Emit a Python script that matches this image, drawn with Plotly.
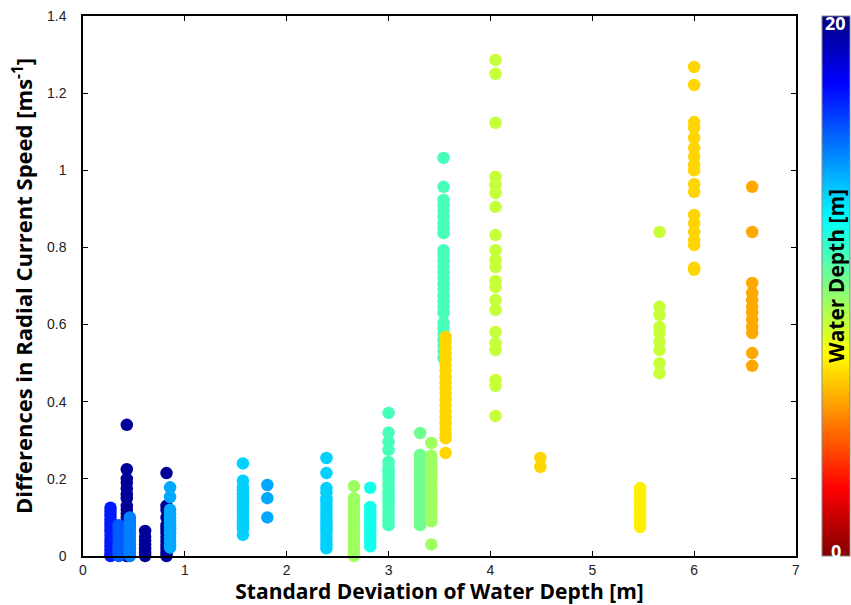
import plotly.graph_objects as go

# ---- data: each group = one column of points (x = std of depth, depth for colour, speeds) ----
group_x = [0.43, 0.27, 0.35, 0.46, 0.61, 0.82, 0.855, 1.57, 1.81, 2.39, 2.66, 2.82, 3.0, 3.31, 3.42,
           3.54, 3.56, 4.05, 4.49, 5.47, 5.66, 6.0, 6.57]
group_depth = [19.5, 17.0, 15.7, 15.0, 19.5, 19.5, 14.2, 13.4, 14.2, 13.4, 9.4, 12.1, 11.1, 10.3, 9.4,
               11.1, 6.7, 8.6, 6.7, 7.2, 8.6, 6.7, 5.8]
group_speed = [
    [0.34, 0.225, 0.20, 0.19, 0.175, 0.16, 0.15, 0.13, 0.12, 0.11, 0.10, 0.09, 0.08, 0.07, 0.06, 0.05,
     0.04, 0.03, 0.02, 0.01, 0.0],
    [0.125, 0.115, 0.105, 0.095, 0.085, 0.075, 0.065, 0.055, 0.045, 0.035, 0.025, 0.015, 0.005, 0.0],
    [0.08, 0.07, 0.06, 0.05, 0.04, 0.03, 0.02, 0.01, 0.0],
    [0.10, 0.09, 0.08, 0.07, 0.06, 0.05, 0.04, 0.03, 0.02, 0.01, 0.0],
    [0.065, 0.05, 0.04, 0.03, 0.02, 0.01, 0.0],
    [0.215, 0.13, 0.12, 0.10, 0.08, 0.07, 0.06, 0.05, 0.04, 0.03, 0.02, 0.01, 0.0],
    [0.178, 0.153, 0.12, 0.11, 0.10, 0.09, 0.08, 0.07, 0.06, 0.05, 0.04, 0.03, 0.022],
    [0.24, 0.195, 0.18, 0.17, 0.16, 0.15, 0.14, 0.13, 0.12, 0.11, 0.10, 0.09, 0.08, 0.07, 0.055],
    [0.184, 0.15, 0.10],
    [0.254, 0.215, 0.176, 0.165, 0.15, 0.14, 0.13, 0.12, 0.11, 0.10, 0.09, 0.08, 0.07, 0.06, 0.05,
     0.04, 0.03, 0.02],
    [0.181, 0.15, 0.14, 0.13, 0.12, 0.11, 0.10, 0.09, 0.08, 0.07, 0.06, 0.05, 0.04, 0.03, 0.02, 0.01, 0.0],
    [0.177, 0.127, 0.115, 0.105, 0.095, 0.085, 0.075, 0.065, 0.055, 0.045, 0.035, 0.025],
    [0.371, 0.32, 0.296, 0.275, 0.244, 0.23, 0.22, 0.21, 0.20, 0.19, 0.18, 0.17, 0.16, 0.15, 0.14,
     0.13, 0.12, 0.11, 0.10, 0.09, 0.08],
    [0.319, 0.262, 0.25, 0.24, 0.23, 0.22, 0.21, 0.20, 0.19, 0.18, 0.17, 0.16, 0.15, 0.14, 0.13, 0.12,
     0.11, 0.10, 0.09, 0.08],
    [0.293, 0.26, 0.25, 0.24, 0.23, 0.22, 0.21, 0.20, 0.19, 0.18, 0.17, 0.16, 0.15, 0.14, 0.13, 0.12,
     0.11, 0.10, 0.09, 0.03],
    [1.032, 0.957, 0.923, 0.91, 0.895, 0.88, 0.865, 0.85, 0.837, 0.793, 0.78, 0.765, 0.75, 0.735, 0.72,
     0.705, 0.69, 0.675, 0.66, 0.645, 0.63, 0.604, 0.59, 0.575, 0.56, 0.545, 0.53, 0.513],
    [0.568, 0.555, 0.54, 0.525, 0.51, 0.495, 0.48, 0.465, 0.45, 0.435, 0.42, 0.405, 0.39, 0.375, 0.36,
     0.345, 0.33, 0.315, 0.305, 0.267],
    [1.286, 1.25, 1.123, 0.983, 0.962, 0.941, 0.905, 0.832, 0.793, 0.767, 0.749, 0.713, 0.697, 0.664,
     0.638, 0.581, 0.552, 0.534, 0.456, 0.441, 0.363],
    [0.254, 0.231],
    [0.176, 0.165, 0.155, 0.145, 0.135, 0.125, 0.115, 0.105, 0.095, 0.085, 0.075],
    [0.84, 0.646, 0.625, 0.594, 0.578, 0.555, 0.534, 0.50, 0.474],
    [1.268, 1.221, 1.125, 1.11, 1.084, 1.058, 1.035, 1.014, 1.0, 0.964, 0.944, 0.884, 0.863, 0.84,
     0.819, 0.806, 0.747, 0.742],
    [0.957, 0.84, 0.708, 0.682, 0.664, 0.646, 0.63, 0.612, 0.594, 0.578, 0.526, 0.493],
]

x_ticks = [0, 1, 2, 3, 4, 5, 6, 7]
y_ticks = [0, 0.2, 0.4, 0.6, 0.8, 1.0, 1.2, 1.4]
y_tick_text = ["0", "0.2", "0.4", "0.6", "0.8", "1", "1.2", "1.4"]

# flatten for a single scatter trace
xs, ys, cs = [], [], []
for gx, gd, sp in zip(group_x, group_depth, group_speed):
    for v in sp:
        xs.append(gx)
        ys.append(v)
        cs.append(gd)

jet_rev = [
    [0.0, "rgb(128,0,0)"],
    [0.125, "rgb(255,0,0)"],
    [0.375, "rgb(255,255,0)"],
    [0.625, "rgb(0,255,255)"],
    [0.875, "rgb(0,0,255)"],
    [1.0, "rgb(0,0,128)"],
]

fig = go.Figure()
fig.add_trace(go.Scatter(
    x=xs, y=ys, mode="markers", cliponaxis=False,
    marker=dict(
        size=12.5, color=cs, colorscale=jet_rev, cmin=0, cmax=20, showscale=True,
        line=dict(width=0),
        colorbar=dict(
            x=1.036, xanchor="left", y=0.5, yanchor="middle", len=1.0, lenmode="fraction",
            thickness=28, xpad=0, ypad=0, outlinewidth=1, outlinecolor="#888",
            showticklabels=False, ticks="",
        ),
    ),
    hoverinfo="skip",
))

axis_common = dict(
    showline=True, linecolor="black", linewidth=1.5, mirror="ticks",
    ticks="inside", ticklen=5, tickcolor="black", tickwidth=1,
    showgrid=False, zeroline=False,
    tickfont=dict(family="Liberation Sans, Arial", size=14, color="#222"),
)

fig.update_layout(
    width=851, height=605,
    margin=dict(l=83, r=55, t=16, b=49, autoexpand=False),
    paper_bgcolor="white", plot_bgcolor="white",
    showlegend=False,
    xaxis=dict(range=[0, 7], tickvals=x_ticks,
               title=dict(text="Standard Deviation of Water Depth [m]", standoff=4,
                          font=dict(family="Open Sans", size=21, color="black", weight="bold")),
               **axis_common),
    yaxis=dict(range=[0, 1.4], tickvals=y_ticks, ticktext=y_tick_text, ticklabelstandoff=12,
               title=dict(text="Differences in Radial Current Speed [ms<sup>-1</sup>]", standoff=8,
                          font=dict(family="Open Sans", size=22, color="black", weight="bold")),
               **axis_common),
    annotations=[
        dict(text="<b>20</b>", x=1.056, y=0.987, xref="paper", yref="paper", showarrow=False,
             xanchor="center", yanchor="middle",
             font=dict(family="Open Sans", size=18, color="white")),
        dict(text="<b>0</b>", x=1.056, y=0.01, xref="paper", yref="paper", showarrow=False,
             xanchor="center", yanchor="middle",
             font=dict(family="Open Sans", size=18, color="white")),
        dict(text="<b>Water Depth [m]</b>", x=1.056, y=0.519, xref="paper", yref="paper",
             showarrow=False, textangle=-90, xanchor="center", yanchor="middle",
             font=dict(family="Open Sans", size=21, color="black")),
    ],
)

fig.write_html("out.html", config={"displayModeBar": False},
               post_script="document.body.style.margin='0';document.body.style.overflow='hidden';")
